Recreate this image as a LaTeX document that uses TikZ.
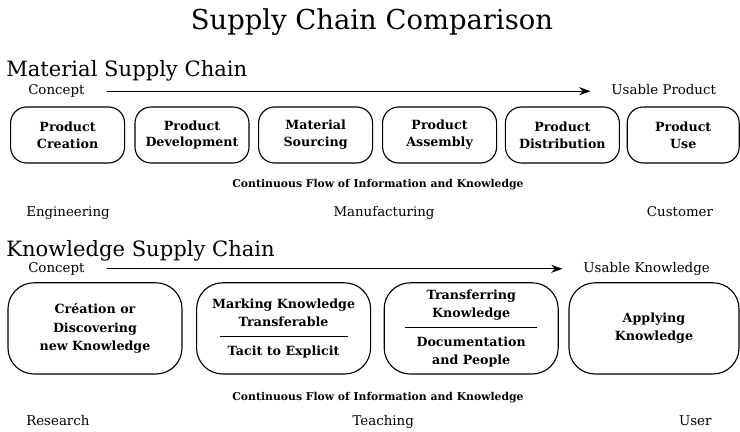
\documentclass[tikz,border=0pt]{standalone}
\usepackage{fontspec}
\setmainfont{DejaVu Serif}
\usetikzlibrary{arrows.meta}

\begin{document}
\begin{tikzpicture}[
  stage/.style={shape=rectangle, rounded corners=0.4cm, draw, line width=0.8pt, minimum width=2.85cm, minimum height=1.4cm, align=center, font=\fontsize{9}{12}\selectfont\bfseries},
  bigstage/.style={stage, rounded corners=0.65cm, minimum width=4.35cm, minimum height=2.28cm, font=\fontsize{9}{13}\selectfont\bfseries},
  heading/.style={anchor=west, inner sep=0, font=\fontsize{15}{17}\selectfont},
  plain/.style={inner sep=0, text height=7pt, text depth=2pt, font=\fontsize{9.5}{11}\selectfont},
  flow/.style={inner sep=0, font=\fontsize{7.7}{9}\selectfont\bfseries},
  flowarrow/.style={-{Stealth[length=2.8mm,width=2mm]}, line width=0.7pt, shorten <=0.55cm, shorten >=0.52cm}
]
\useasboundingbox (0,0) rectangle (18.5,-10.8);
\node at (9.3,-0.55) [font=\fontsize{19.5}{22}\selectfont] (title) {Supply Chain Comparison};

\node at (0.15,-1.78) [heading] (matchain) {Material Supply Chain};
\node at (0.7,-2.28) [plain, anchor=west] (concept1) {Concept};
\node at (15.28,-2.28) [plain, anchor=west] (usable1) {Usable Product};
\draw [flowarrow] (concept1) to (usable1);
\node at (1.69,-3.375) [stage] (creation) {Product\\Creation};
\node at (4.8,-3.375) [stage] (development) {Product\\Development};
\node at (7.89,-3.375) [stage] (sourcing) {Material\\Sourcing};
\node at (10.99,-3.375) [stage] (assembly) {Product\\Assembly};
\node at (14.06,-3.375) [stage] (distribution) {Product\\Distribution};
\node at (17.08,-3.375) [stage, minimum width=2.8cm] (use) {Product\\Use};
\node at (9.45,-4.62) [flow] (flow1) {Continuous Flow of Information and Knowledge};
\node at (0.65,-5.33) [plain, anchor=west] (engineering) {Engineering};
\node at (9.6,-5.33) [plain] (manufacturing) {Manufacturing};
\node at (17.0,-5.33) [plain] (customer) {Customer};

\node at (0.15,-6.28) [heading] (knowchain) {Knowledge Supply Chain};
\node at (0.7,-6.72) [plain, anchor=west] (concept2) {Concept};
\node at (14.58,-6.72) [plain, anchor=west] (usable2) {Usable Knowledge};
\draw [flowarrow] (concept2) to (usable2);
\node at (2.375,-8.21) [bigstage] (discover) {Création or\\Discovering\\new Knowledge};
\node at (7.09,-8.21) [bigstage] (marking) {Marking Knowledge\\Transferable\\[-5.5pt]\rule{3.2cm}{0.6pt}\\Tacit to Explicit};
\node at (11.78,-8.21) [bigstage] (transfer) {Transferring\\Knowledge\\[-5.5pt]\rule{3.3cm}{0.6pt}\\Documentation\\and People};
\node at (16.35,-8.21) [bigstage, minimum width=4.25cm] (applying) {Applying\\Knowledge};
\node at (9.45,-9.95) [flow] (flow2) {Continuous Flow of Information and Knowledge};
\node at (0.65,-10.55) [plain, anchor=west] (research) {Research};
\node at (9.58,-10.55) [plain] (teaching) {Teaching};
\node at (17.38,-10.55) [plain] (user) {User};
\end{tikzpicture}
\end{document}
